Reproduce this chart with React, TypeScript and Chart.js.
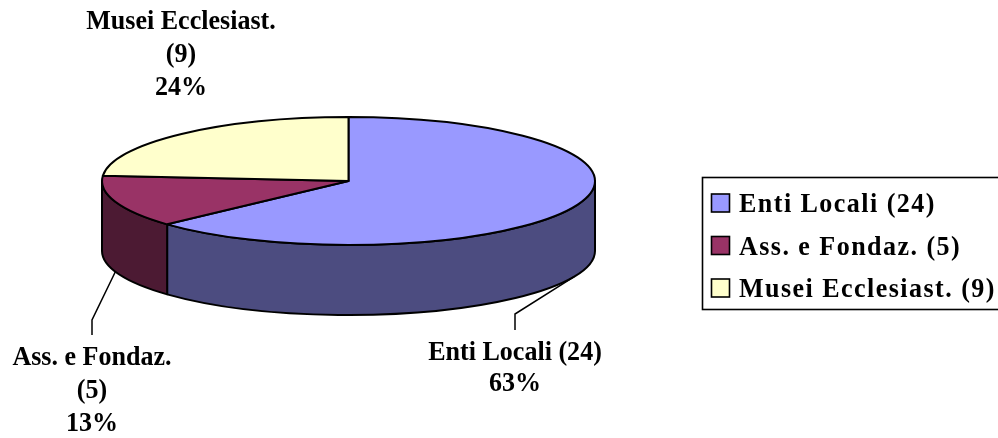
import { useEffect, useRef } from 'react';
import { Chart, registerables } from 'chart.js';

Chart.register(...registerables);

// ---- data ----
const categories = ['Enti Locali (24)', 'Ass. e Fondaz. (5)', 'Musei Ecclesiast. (9)'];
const values = [24, 5, 9];
const calloutNames = [['Enti Locali (24)'], ['Ass. e Fondaz.', '(5)'], ['Musei Ecclesiast.', '(9)']];
const topColors = ['#9999FF', '#993366', '#FFFFCC'];
const sideColors = ['#4C4C80', '#4C1A33', '#80806A'];

// ---- layout (positions / sizes) ----
const GEOM = { cx: 348.5, cy: 181, rx: 246.5, ry: 64, depth: 70 };
const CALLOUTS = [
  { x: 515, y: 360, lineH: 31, leader: true, elbowY: 314, endY: 330 },
  { x: 92, y: 365, lineH: 33, leader: true, elbowY: 320, endY: 335 },
  { x: 181, y: 29, lineH: 33, leader: false, elbowY: 0, endY: 0 },
];
const LEGEND = { x: 702.5, y: 177.5, w: 400, h: 132, boxX: 711.5, textX: 739, firstBase: 212, step: 42.5, box: 18 };
const FONT = '"Liberation Serif", "Times New Roman", Times, serif';
const SX = 0.965;

function drawText(ctx: CanvasRenderingContext2D, t: string, x: number, y: number) {
  ctx.save();
  ctx.scale(SX, 1);
  ctx.fillText(t, x / SX, y);
  ctx.restore();
}

export default function App() {
  const ref = useRef<HTMLCanvasElement>(null);

  useEffect(() => {
    if (!ref.current) return;
    const total = values.reduce((a, b) => a + b, 0);

    const pie3d = {
      id: 'pie3d',
      beforeDatasetsDraw(chart: any) {
        const ctx: CanvasRenderingContext2D = chart.ctx;
        const arcs = chart.getDatasetMeta(0).data;
        const { cx, cy, rx, ry, depth } = GEOM;
        ctx.save();
        ctx.lineWidth = 2;
        ctx.strokeStyle = '#000';
        ctx.lineJoin = 'round';
        // outer walls (front half only)
        arcs.forEach((arc: any, i: number) => {
          const { startAngle, endAngle } = arc.getProps(['startAngle', 'endAngle'], true);
          for (const off of [-2 * Math.PI, 0, 2 * Math.PI]) {
            const a = Math.max(startAngle, off);
            const b = Math.min(endAngle, off + Math.PI);
            if (b > a) {
              ctx.beginPath();
              ctx.ellipse(cx, cy, rx, ry, 0, a, b);
              ctx.lineTo(cx + rx * Math.cos(b), cy + depth + ry * Math.sin(b));
              ctx.ellipse(cx, cy + depth, rx, ry, 0, b, a, true);
              ctx.closePath();
              ctx.fillStyle = sideColors[i];
              ctx.fill();
              ctx.stroke();
            }
          }
        });
        // top faces
        arcs.forEach((arc: any, i: number) => {
          const { startAngle, endAngle } = arc.getProps(['startAngle', 'endAngle'], true);
          ctx.beginPath();
          ctx.moveTo(cx, cy);
          ctx.ellipse(cx, cy, rx, ry, 0, startAngle, endAngle);
          ctx.closePath();
          ctx.fillStyle = topColors[i];
          ctx.fill();
          ctx.stroke();
        });
        ctx.restore();
        return false;
      },
      afterDraw(chart: any) {
        const ctx: CanvasRenderingContext2D = chart.ctx;
        const arcs = chart.getDatasetMeta(0).data;
        const { cx, cy, rx, ry, depth } = GEOM;
        ctx.save();
        ctx.fillStyle = '#000';
        ctx.strokeStyle = '#000';
        ctx.font = `bold 27px ${FONT}`;
        ctx.textAlign = 'center';
        ctx.textBaseline = 'alphabetic';
        arcs.forEach((arc: any, i: number) => {
          const c = CALLOUTS[i];
          const pct = Math.round((values[i] / total) * 100) + '%';
          const lines = [...calloutNames[i], pct];
          lines.forEach((t, k) => drawText(ctx, t, c.x, c.y + k * c.lineH));
          if (c.leader) {
            const { startAngle, endAngle } = arc.getProps(['startAngle', 'endAngle'], true);
            const m = (startAngle + endAngle) / 2;
            const sx = cx + rx * Math.cos(m);
            const sy = cy + ry * Math.sin(m) + (Math.sin(m) > 0 ? depth : 0);
            ctx.lineWidth = 1.5;
            ctx.beginPath();
            ctx.moveTo(sx, sy);
            ctx.lineTo(c.x, c.elbowY);
            ctx.lineTo(c.x, c.endY);
            ctx.stroke();
          }
        });
        // legend
        ctx.lineWidth = 1.6;
        ctx.strokeRect(LEGEND.x, LEGEND.y, LEGEND.w, LEGEND.h);
        ctx.textAlign = 'left';
        (ctx as any).letterSpacing = '1.5px';
        categories.forEach((name, i) => {
          const base = LEGEND.firstBase + i * LEGEND.step;
          ctx.fillStyle = topColors[i];
          ctx.fillRect(LEGEND.boxX, base - LEGEND.box, LEGEND.box, LEGEND.box);
          ctx.strokeRect(LEGEND.boxX, base - LEGEND.box, LEGEND.box, LEGEND.box);
          ctx.fillStyle = '#000';
          drawText(ctx, name, LEGEND.textX, base);
        });
        ctx.restore();
      },
    };

    const chart = new Chart(ref.current, {
      type: 'pie',
      data: {
        labels: categories,
        datasets: [{ data: values, backgroundColor: topColors, borderColor: '#000', borderWidth: 1 }],
      },
      options: {
        responsive: false,
        animation: false,
        devicePixelRatio: 1,
        plugins: { legend: { display: false }, tooltip: { enabled: false } },
      },
      plugins: [pie3d],
    } as any);
    return () => chart.destroy();
  }, []);

  return (
    <div style={{ position: 'absolute', left: 0, top: 0, width: 998, height: 438, background: '#fff' }}>
      <canvas ref={ref} width={998} height={438} style={{ display: 'block' }} />
    </div>
  );
}
